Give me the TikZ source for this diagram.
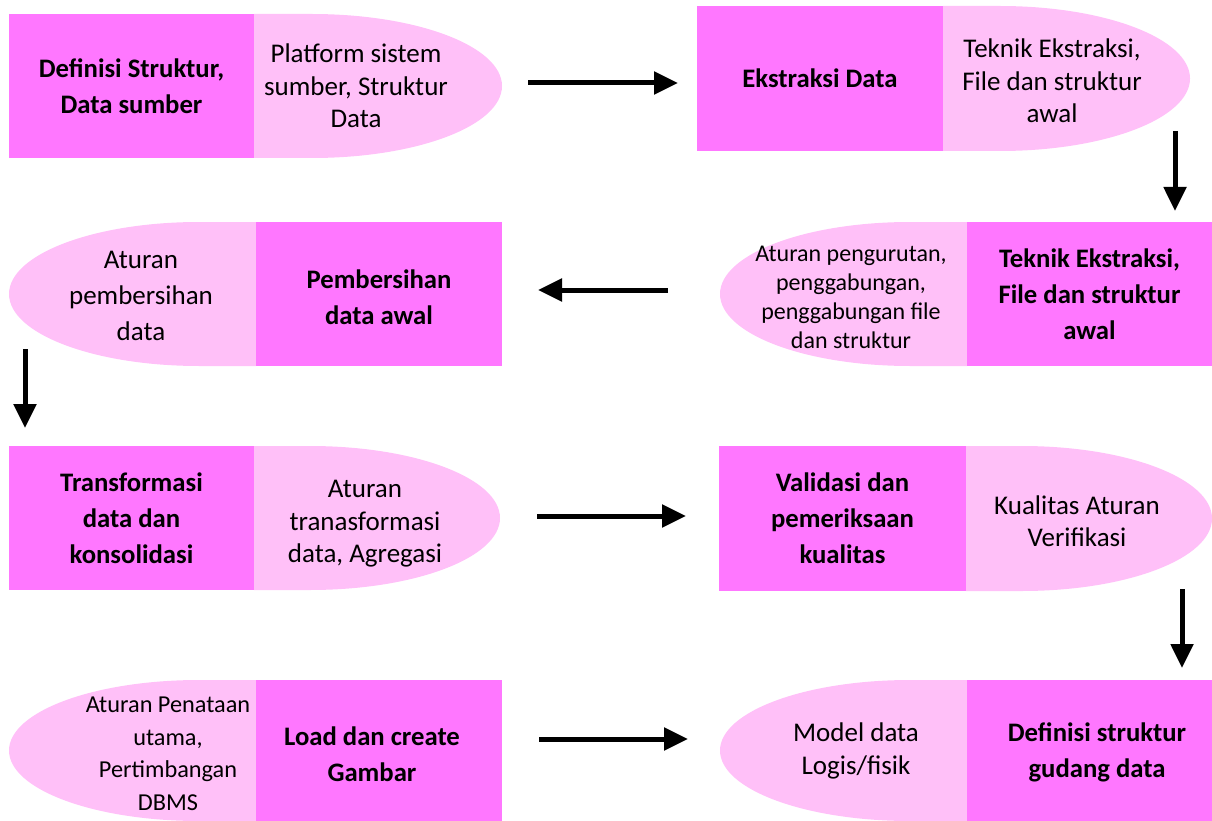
\documentclass[tikz,border=0pt]{standalone}
\usepackage{fontspec}
\setmainfont{Carlito}
\usetikzlibrary{arrows.meta}
\definecolor{dpink}{RGB}{255,119,255}
\definecolor{lpink}{RGB}{255,192,248}
\begin{document}
\begin{tikzpicture}[x=1pt,y=1pt,
  dbox/.style={fill=dpink, draw=none, inner sep=0pt, align=center, font=\fontsize{26.7}{36}\selectfont\bfseries},
  dtxt/.style={inner sep=0pt, align=center, font=\fontsize{26.7}{36}\selectfont\bfseries},
  lshape/.style={fill=lpink, draw=none},
  ltxt/.style={align=center, inner sep=0pt, font=\fontsize{27}{32.5}\selectfont},
  stxt/.style={align=center, inner sep=0pt, font=\fontsize{24}{29}\selectfont},
  arr/.style={line width=5pt, -{Triangle[length=24pt,width=22pt]}}
]
\useasboundingbox (0,0) rectangle (1212,-821);

% Row 1 left
\fill[lshape] (254,-14) -- (312,-14) arc[start angle=90,end angle=-90,x radius=190,y radius=72] -- (254,-158) -- cycle;
\node[dbox, minimum width=245, minimum height=144] (d1) at (131.5,-86) {Definisi Struktur,\\Data sumber};
\node[ltxt] (t1) at (356,-86) {Platform sistem\\sumber, Struktur\\Data};

% Row 1 right
\fill[lshape] (943,-6) -- (1000,-6) arc[start angle=90,end angle=-90,x radius=190,y radius=72.5] -- (943,-151) -- cycle;
\node[dbox, minimum width=246, minimum height=145] (d2) at (820,-78.5) {Ekstraksi Data};
\node[ltxt] (t2) at (1052,-81) {Teknik Ekstraksi,\\File dan struktur\\awal};

% Row 2 left
\fill[lshape] (256,-222) -- (199,-222) arc[start angle=90,end angle=270,x radius=190,y radius=72] -- (256,-366) -- cycle;
\node[ltxt, font=\fontsize{27}{36}\selectfont] (t3) at (141,-296) {Aturan\\pembersihan\\data};
\node[dbox, minimum width=246, minimum height=144] (d3) at (379,-294) {};
\node[dtxt] (d3t) at (379,-297) {Pembersihan\\data awal};

% Row 2 right
\fill[lshape] (967,-222) -- (910,-222) arc[start angle=90,end angle=270,x radius=190,y radius=72] -- (967,-366) -- cycle;
\node[stxt] (t4) at (851,-297) {Aturan pengurutan,\\penggabungan,\\penggabungan file\\dan struktur};
\node[dbox, minimum width=245, minimum height=144] (d4) at (1089.5,-294) {Teknik Ekstraksi,\\File dan struktur\\awal};

% Row 3 left
\fill[lshape] (254,-446) -- (310,-446) arc[start angle=90,end angle=-90,x radius=190,y radius=72] -- (254,-590) -- cycle;
\node[dbox, minimum width=245, minimum height=144] (d5) at (131.5,-518) {Transformasi\\data dan\\konsolidasi};
\node[ltxt] (t5) at (365,-524) {Aturan\\tranasformasi\\data, Agregasi};

% Row 3 right
\fill[lshape] (966,-446) -- (1022,-446) arc[start angle=90,end angle=-90,x radius=190,y radius=72.5] -- (966,-591) -- cycle;
\node[dbox, minimum width=247, minimum height=145] (d6) at (842.5,-518.5) {Validasi dan\\pemeriksaan\\kualitas};
\node[ltxt] (t6) at (1077,-521) {Kualitas Aturan\\Verifikasi};

% Row 4 left
\fill[lshape] (256,-680) -- (199,-680) arc[start angle=90,end angle=270,x radius=190,y radius=70.5] -- (256,-821) -- cycle;
\node[ltxt, font=\fontsize{24.3}{32.5}\selectfont] (t7) at (168,-754) {Aturan Penataan\\utama,\\Pertimbangan\\DBMS};
\node[dbox, minimum width=246, minimum height=141] (d7) at (379,-750.5) {};
\node[dtxt] (d7t) at (372,-754) {Load dan create\\Gambar};

% Row 4 right
\fill[lshape] (967,-680) -- (910,-680) arc[start angle=90,end angle=270,x radius=190,y radius=70.5] -- (967,-821) -- cycle;
\node[ltxt] (t8) at (856,-751) {Model data\\Logis/fisik};
\node[dbox, minimum width=245, minimum height=141] (d8) at (1089.5,-750.5) {};
\node[dtxt] (d8t) at (1097,-752) {Definisi struktur\\gudang data};

% Arrows
\coordinate (a1s) at (528,-83);   \coordinate (a1e) at (678,-83);
\coordinate (a2s) at (1175,-131); \coordinate (a2e) at (1175,-211);
\coordinate (a3s) at (668,-290);  \coordinate (a3e) at (538,-290);
\coordinate (a4s) at (25,-349);   \coordinate (a4e) at (25,-428);
\coordinate (a5s) at (537,-516);  \coordinate (a5e) at (686,-516);
\coordinate (a6s) at (1182,-589); \coordinate (a6e) at (1182,-668);
\coordinate (a7s) at (539,-739);  \coordinate (a7e) at (688,-739);
\draw[arr] (a1s) -- (a1e);
\draw[arr] (a2s) -- (a2e);
\draw[arr] (a3s) -- (a3e);
\draw[arr] (a4s) -- (a4e);
\draw[arr] (a5s) -- (a5e);
\draw[arr] (a6s) -- (a6e);
\draw[arr] (a7s) -- (a7e);
\end{tikzpicture}
\end{document}
